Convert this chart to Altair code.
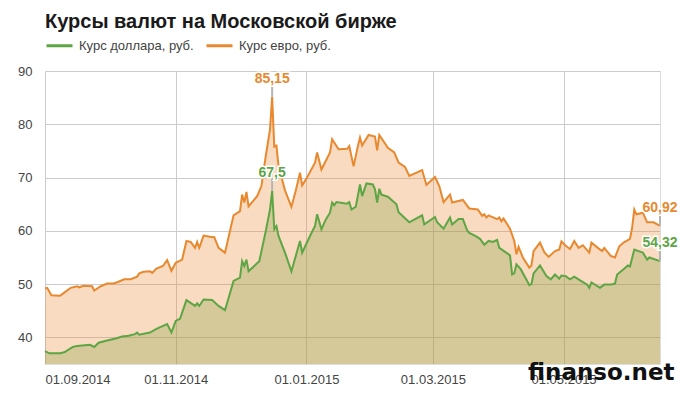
import altair as alt
import pandas as pd

TITLE = "Курсы валют на Московской бирже"
USD_NAME = "Курс доллара, руб."
EUR_NAME = "Курс евро, руб."
WATERMARK = "finanso.net"

eur_dates = [
    "2014-09-01", "2014-09-02", "2014-09-04", "2014-09-08", "2014-09-10", "2014-09-13",
    "2014-09-16", "2014-09-17", "2014-09-19", "2014-09-23", "2014-09-24", "2014-09-27",
    "2014-09-30", "2014-10-03", "2014-10-05", "2014-10-08", "2014-10-11", "2014-10-14",
    "2014-10-15", "2014-10-17", "2014-10-20", "2014-10-21", "2014-10-23", "2014-10-26",
    "2014-10-28", "2014-10-30", "2014-11-01", "2014-11-04", "2014-11-06", "2014-11-08",
    "2014-11-10", "2014-11-11", "2014-11-12", "2014-11-14", "2014-11-17", "2014-11-19",
    "2014-11-21", "2014-11-24", "2014-11-28", "2014-12-01", "2014-12-02", "2014-12-03",
    "2014-12-04", "2014-12-05", "2014-12-09", "2014-12-11", "2014-12-13", "2014-12-15",
    "2014-12-16", "2014-12-17", "2014-12-18", "2014-12-19", "2014-12-22", "2014-12-25",
    "2014-12-27", "2014-12-29", "2014-12-30", "2015-01-01", "2015-01-05", "2015-01-06",
    "2015-01-08", "2015-01-12", "2015-01-13", "2015-01-16", "2015-01-20", "2015-01-21",
    "2015-01-23", "2015-01-25", "2015-01-26", "2015-01-27", "2015-01-30", "2015-02-02",
    "2015-02-03", "2015-02-04", "2015-02-08", "2015-02-11", "2015-02-13", "2015-02-16",
    "2015-02-18", "2015-02-24", "2015-02-26", "2015-03-02", "2015-03-04", "2015-03-06",
    "2015-03-09", "2015-03-10", "2015-03-15", "2015-03-18", "2015-03-22", "2015-03-24",
    "2015-03-25", "2015-03-26", "2015-03-27", "2015-03-31", "2015-04-01", "2015-04-02",
    "2015-04-03", "2015-04-06", "2015-04-08", "2015-04-09", "2015-04-10", "2015-04-12",
    "2015-04-15", "2015-04-16", "2015-04-17", "2015-04-20", "2015-04-22", "2015-04-24",
    "2015-04-27", "2015-04-29", "2015-04-30", "2015-05-02", "2015-05-04", "2015-05-06",
    "2015-05-08", "2015-05-10", "2015-05-13", "2015-05-14", "2015-05-17", "2015-05-19",
    "2015-05-20", "2015-05-23", "2015-05-25", "2015-05-27", "2015-05-29", "2015-06-01",
    "2015-06-02", "2015-06-03", "2015-06-04", "2015-06-07", "2015-06-09", "2015-06-12",
    "2015-06-15",
]
eur_values = [
    49.2, 49.3, 47.9, 47.8, 48.4, 49.3,
    49.6, 49.4, 49.7, 49.6, 48.8, 49.6,
    50.1, 50.1, 50.4, 50.9, 50.9, 51.4,
    52.0, 52.3, 52.4, 52.1, 52.9, 53.4,
    54.5, 52.5, 54.0, 54.6, 58.1, 57.9,
    56.8, 57.9, 56.8, 59.1, 58.9, 58.8,
    56.8, 55.9, 62.9, 63.7, 66.8, 65.3,
    67.3, 64.6, 66.5, 68.4, 74.0, 79.0,
    85.15, 75.8, 76.0, 72.1, 67.6, 64.5,
    67.5, 70.9, 68.5, 69.8, 72.8, 74.7,
    71.5, 74.7, 77.2, 75.3, 75.4, 75.9,
    72.1, 75.9, 77.5, 76.0, 78.0, 77.7,
    75.1, 78.0, 75.6, 74.7, 72.8, 72.0,
    70.3, 71.4, 68.6, 70.1, 68.4, 65.4,
    66.8, 65.3, 65.8, 64.2, 64.0, 62.8,
    63.1, 62.5, 62.9, 62.2, 62.5, 61.8,
    62.3, 60.4, 58.1, 55.6, 57.0, 55.0,
    53.1, 53.5, 56.2, 57.8, 56.0, 55.1,
    56.2, 56.5, 58.0, 57.2, 56.6, 58.1,
    56.8, 57.3, 55.9, 57.8, 56.8, 56.2,
    56.8, 55.3, 55.0, 57.1, 57.8, 58.5,
    60.6, 64.0, 63.1, 63.4, 61.6, 61.6,
    60.92,
]

usd_dates = [
    "2014-09-01", "2014-09-03", "2014-09-08", "2014-09-10", "2014-09-14", "2014-09-16",
    "2014-09-22", "2014-09-24", "2014-09-26", "2014-09-30", "2014-10-02", "2014-10-04",
    "2014-10-07", "2014-10-10", "2014-10-13", "2014-10-14", "2014-10-15", "2014-10-20",
    "2014-10-23", "2014-10-28", "2014-10-30", "2014-11-01", "2014-11-03", "2014-11-06",
    "2014-11-10", "2014-11-11", "2014-11-12", "2014-11-14", "2014-11-18", "2014-11-21",
    "2014-11-24", "2014-11-28", "2014-12-01", "2014-12-02", "2014-12-03", "2014-12-04",
    "2014-12-05", "2014-12-10", "2014-12-13", "2014-12-15", "2014-12-16", "2014-12-17",
    "2014-12-18", "2014-12-19", "2014-12-22", "2014-12-25", "2014-12-29", "2014-12-30",
    "2015-01-03", "2015-01-05", "2015-01-06", "2015-01-08", "2015-01-10", "2015-01-12",
    "2015-01-13", "2015-01-14", "2015-01-15", "2015-01-20", "2015-01-21", "2015-01-22",
    "2015-01-24", "2015-01-26", "2015-01-27", "2015-01-29", "2015-02-01", "2015-02-02",
    "2015-02-03", "2015-02-04", "2015-02-05", "2015-02-08", "2015-02-12", "2015-02-13",
    "2015-02-18", "2015-02-24", "2015-02-25", "2015-03-02", "2015-03-03", "2015-03-06",
    "2015-03-09", "2015-03-10", "2015-03-13", "2015-03-15", "2015-03-17", "2015-03-18",
    "2015-03-21", "2015-03-23", "2015-03-25", "2015-03-27", "2015-03-29", "2015-03-31",
    "2015-04-01", "2015-04-06", "2015-04-07", "2015-04-08", "2015-04-09", "2015-04-11",
    "2015-04-14", "2015-04-15", "2015-04-16", "2015-04-17", "2015-04-20", "2015-04-23",
    "2015-04-25", "2015-04-27", "2015-04-29", "2015-04-30", "2015-05-02", "2015-05-04",
    "2015-05-06", "2015-05-08", "2015-05-12", "2015-05-13", "2015-05-14", "2015-05-18",
    "2015-05-20", "2015-05-23", "2015-05-25", "2015-05-26", "2015-05-29", "2015-05-31",
    "2015-06-01", "2015-06-03", "2015-06-05", "2015-06-07", "2015-06-09", "2015-06-10",
    "2015-06-15",
]
usd_values = [
    37.4, 37.0, 37.0, 37.2, 38.2, 38.4,
    38.6, 38.2, 39.0, 39.4, 39.6, 39.8,
    40.15, 40.3, 40.6, 40.9, 40.5, 40.9,
    41.6, 42.5, 40.9, 43.1, 43.5, 47.0,
    45.9, 46.4, 45.9, 47.1, 47.0, 45.9,
    45.1, 50.6, 51.2, 54.3, 53.4, 54.6,
    52.4, 54.3, 59.9, 64.0, 67.5, 60.3,
    60.9, 59.0, 55.9, 52.4, 58.1, 55.9,
    59.3, 60.9, 63.1, 60.3, 62.1, 63.4,
    65.3, 64.8, 65.4, 65.1, 65.4, 64.0,
    64.5, 68.7, 66.5, 68.9, 68.7, 67.8,
    65.3, 67.9, 66.8, 66.4, 65.0, 63.5,
    61.6, 62.9, 61.2, 62.6, 61.6, 60.4,
    62.5, 61.2, 62.2, 62.2, 60.1, 59.6,
    59.0, 58.5, 57.4, 58.1, 57.9, 58.3,
    56.8, 55.4, 51.8, 52.0, 53.7, 52.8,
    50.6, 49.8, 50.0, 52.0, 53.5, 51.5,
    50.9, 51.8, 51.0, 51.6, 51.5, 50.9,
    51.4, 50.9, 49.9, 49.3, 50.3, 49.3,
    49.9, 49.9, 50.1, 51.8, 52.8, 53.5,
    53.3, 56.5, 56.2, 55.9, 54.6, 55.0,
    54.32,
]

x_ticks = [(2014, 9, 1), (2014, 11, 1), (2015, 1, 1), (2015, 3, 1), (2015, 5, 1)]
x_domain = [(2014, 9, 1), (2015, 6, 15)]
y_ticks = [40, 50, 60, 70, 80, 90]
y_domain = [35, 90]

EUR_COLOR = "#e8892f"
USD_COLOR = "#5ea545"
USD_FILL = "#86a040"
FONT = "Liberation Sans"


def dt(t):
    return alt.DateTime(year=t[0], month=t[1], date=t[2], utc=True)


eur = pd.DataFrame({"date": eur_dates, "value": eur_values, "series": EUR_NAME})
usd = pd.DataFrame({"date": usd_dates, "value": usd_values, "series": USD_NAME})


def fmt(v):
    return f"{v:g}".replace(".", ",")


# annotated points: the date of the euro peak and the last date, for both series
peak_date = eur.loc[eur["value"].idxmax(), "date"]
last_date = eur["date"].iloc[-1]


def ann_frame(df):
    sub = df[df["date"].isin([peak_date, last_date])]
    return pd.DataFrame({
        "date": list(sub["date"]),
        "value": list(sub["value"]),
        "label": [fmt(v) for v in sub["value"]],
    })


eur_ann = ann_frame(eur)
usd_ann = ann_frame(usd)

x_enc = alt.X(
    "date:T",
    scale=alt.Scale(type="utc", domain=[dt(d) for d in x_domain]),
    axis=alt.Axis(
        values=[dt(d) for d in x_ticks],
        labelExpr="utcFormat(datum.value, '%d.%m.%Y')",
        title=None, ticks=False, domain=False, grid=True, gridColor="#cccccc",
        labelFont=FONT, labelFontSize=13, labelColor="#444444", labelPadding=9,
    ),
)
y_enc = alt.Y(
    "value:Q",
    scale=alt.Scale(domain=y_domain, zero=False, nice=False),
    axis=alt.Axis(
        values=y_ticks, title=None, ticks=False, domain=False, grid=True,
        gridColor="#cccccc", labelFont=FONT, labelFontSize=13,
        labelColor="#444444", labelPadding=13,
    ),
)

stroke_scale = alt.Scale(domain=[USD_NAME, EUR_NAME], range=[USD_COLOR, EUR_COLOR])
legend = alt.Legend(
    orient="none", legendX=0, legendY=-40, direction="horizontal", title=None,
    symbolType="stroke", symbolSize=676, symbolStrokeWidth=3,
    labelFont=FONT, labelFontSize=13, labelColor="#444444",
    columnPadding=6, labelOffset=5, padding=0,
)

eur_area = alt.Chart(eur).mark_area(color=EUR_COLOR, opacity=0.3).encode(
    x=x_enc, y=y_enc, y2=alt.datum(y_domain[0]))
usd_area = alt.Chart(usd).mark_area(color=USD_FILL, opacity=0.3).encode(
    x="date:T", y="value:Q", y2=alt.datum(y_domain[0]))
eur_line = alt.Chart(eur).mark_line(strokeWidth=2).encode(
    x="date:T", y="value:Q",
    stroke=alt.Stroke("series:N", scale=stroke_scale, legend=legend))
usd_line = alt.Chart(usd).mark_line(strokeWidth=2).encode(
    x="date:T", y="value:Q",
    stroke=alt.Stroke("series:N", scale=stroke_scale, legend=legend))


def ann_layers(df, color):
    base = alt.Chart(df).encode(x="date:T", y="value:Q")
    rule = base.mark_rule(color="#b5b5b5", strokeWidth=2, y2Offset=-12).encode(y2="value:Q")
    halo = base.mark_text(font=FONT, fontSize=14, fontWeight="bold", dy=-14,
                          baseline="alphabetic", stroke="white", strokeWidth=3,
                          color="white").encode(text="label:N")
    txt = base.mark_text(font=FONT, fontSize=14, fontWeight="bold", dy=-14,
                         baseline="alphabetic", color=color).encode(text="label:N")
    return [rule, halo, txt]


wm = alt.Chart(pd.DataFrame({"t": [WATERMARK]})).mark_text(
    font="DejaVu Sans", fontSize=23, fontWeight="bold", color="#111111",
    align="left", baseline="alphabetic",
).encode(text="t:N", x=alt.value(483), y=alt.value(309))

chart = alt.layer(
    eur_area, usd_area, eur_line, usd_line,
    *ann_layers(eur_ann, EUR_COLOR), *ann_layers(usd_ann, USD_COLOR), wm,
).properties(
    width=615, height=293,
    autosize=alt.AutoSizeParams(type="none"),
    padding={"left": 45, "top": 71, "right": 28, "bottom": 35},
    title=alt.TitleParams(
        TITLE, anchor="start", frame="group", font=FONT, fontSize=20,
        fontWeight="bold", color="#1a1a1a", baseline="alphabetic", offset=5, dy=22,
    ),
).configure_view(stroke=None).configure(background="white")

chart.save("out.html", embed_options={"renderer": "svg", "actions": False})
